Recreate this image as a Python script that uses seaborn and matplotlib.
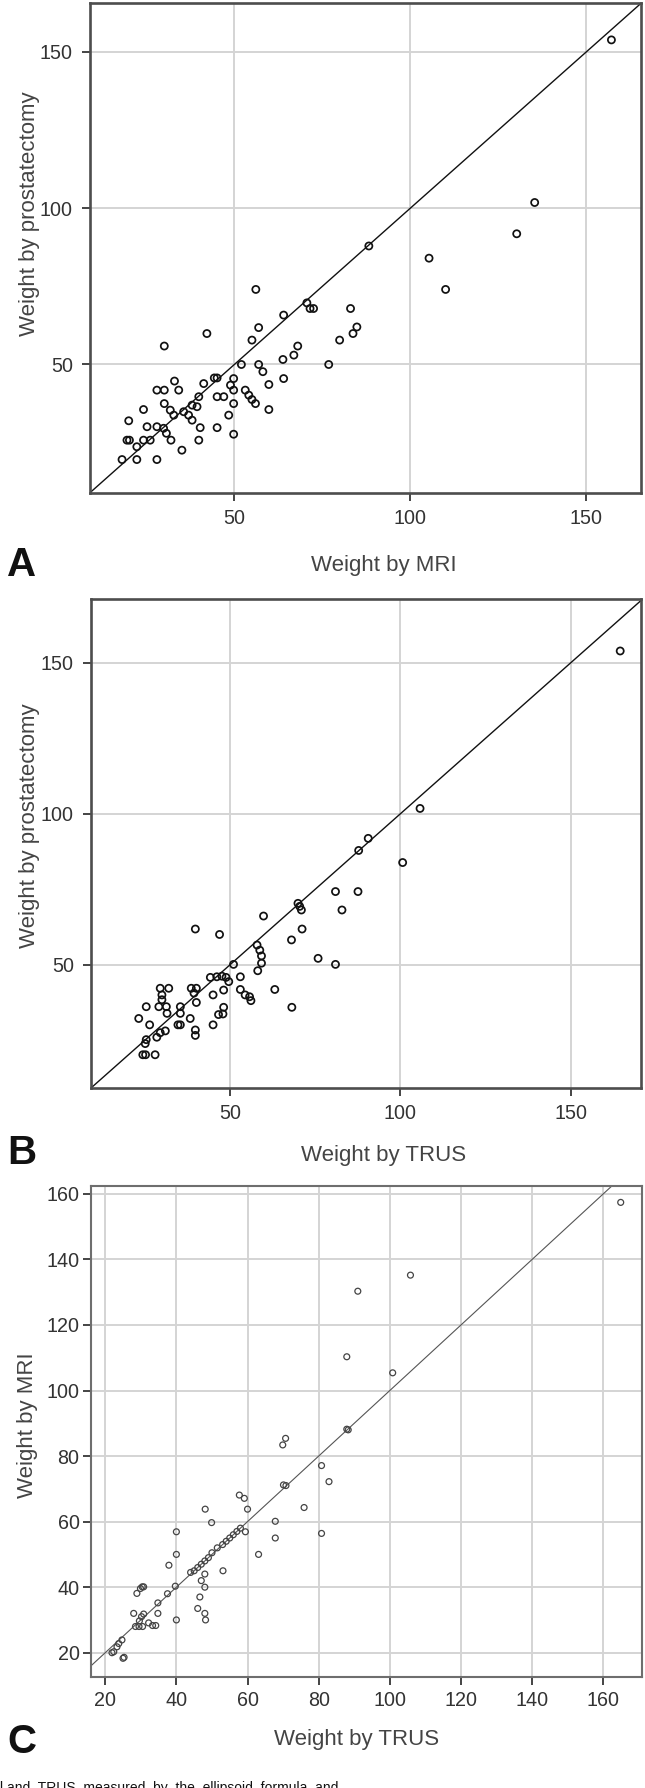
import numpy as np
import pandas as pd
import matplotlib
matplotlib.use("Agg")
import matplotlib.pyplot as plt
import seaborn as sns
from matplotlib import font_manager

# panel A: MRI vs prostatectomy weight
mri_a = [157.1, 135.3, 130.2, 105.3, 110.0, 88.2, 56.1,
         70.6, 71.5, 72.5, 83.0, 64.0, 56.9, 84.8, 83.7, 42.2, 55.0, 79.9, 30.1, 68.0,
         66.9, 63.8, 52.0, 56.9, 76.8, 58.1, 44.3, 45.1, 49.8, 64.0,
         33.0, 41.3, 59.8, 48.9, 28.0, 30.1, 34.2, 49.8, 53.1, 54.1, 39.9, 45.1, 47.0,
         55.0, 30.1, 56.0, 49.8, 38.0, 39.4, 24.2, 31.8, 59.8, 35.6, 32.8, 37.0, 48.4,
         20.0, 38.0, 25.2, 28.0, 29.9, 40.3, 45.1, 49.8, 30.7, 19.5, 20.2, 24.2, 26.1,
         32.0, 39.9, 22.3, 35.1, 18.1, 22.3, 28.0]
prost_a = [153.8, 101.8, 91.8, 84.0, 74.0, 87.9, 74.0,
           69.7, 67.9, 67.9, 67.9, 65.8, 61.8, 62.0, 59.9, 59.9, 57.8, 57.8, 55.9, 55.9,
           53.0, 51.6, 50.0, 50.0, 50.0, 47.7, 45.7, 45.7, 45.5, 45.5,
           44.7, 43.9, 43.6, 43.4, 41.8, 41.8, 41.8, 41.8, 41.8, 40.2, 39.7, 39.7, 39.7,
           38.8, 37.5, 37.5, 37.5, 37.0, 36.5, 35.6, 35.4, 35.6, 34.9, 33.8, 33.8, 33.8,
           32.0, 32.2, 30.1, 30.1, 29.6, 29.8, 29.8, 27.7, 28.0, 25.8, 25.8, 25.8, 25.8,
           25.8, 25.8, 23.7, 22.6, 19.6, 19.6, 19.6]

# panel B: TRUS vs prostatectomy weight
trus_b = [164.5, 105.8, 100.7, 90.6, 87.8,
          81.0, 87.6, 70.0, 70.5, 71.0, 82.9, 59.9, 71.2, 39.9, 47.0, 68.1, 58.0, 58.8,
          59.3, 59.3, 58.2, 75.9, 81.0, 51.1, 44.3, 46.2, 47.7, 48.9, 49.7, 53.1, 53.1,
          54.5, 55.8, 56.2, 63.2, 45.1, 48.2, 48.2, 48.0, 46.7, 68.2, 45.1, 39.9, 39.9,
          38.4, 29.6, 32.1, 38.7, 40.2, 39.5, 30.1, 30.1, 29.2, 31.4, 31.6, 35.5, 35.5,
          40.2, 25.5, 23.3, 26.5, 34.8, 35.5, 31.1, 29.6, 28.6, 25.5, 25.2, 24.5, 25.3,
          28.1]
prost_b = [153.9, 101.8, 83.9, 91.9, 87.9,
           74.3, 74.3, 70.4, 69.4, 68.2, 68.2, 66.2, 61.9, 61.9, 60.1, 58.3, 56.6, 54.9,
           53.0, 50.6, 48.1, 52.2, 50.2, 50.2, 45.9, 46.1, 46.3, 45.9, 44.5, 46.1, 41.9,
           40.1, 39.5, 38.2, 41.9, 40.1, 41.7, 36.0, 33.8, 33.6, 36.0, 30.2, 28.5, 26.7,
           32.3, 42.3, 42.3, 42.3, 42.3, 40.7, 40.1, 38.5, 36.2, 36.2, 34.0, 36.2, 34.0,
           37.6, 36.2, 32.3, 30.2, 30.2, 30.2, 28.2, 27.6, 26.1, 25.3, 24.0, 20.3, 20.3,
           20.3]

# panel C: TRUS vs MRI weight
trus_c = [164.9, 105.8, 91.0, 87.9, 100.8, 87.9, 88.3, 70.7, 69.9, 80.8, 82.9, 70.1,
          70.8, 75.9, 67.8, 80.8, 67.8, 57.7, 59.1, 60.0, 48.1, 49.9, 59.4, 40.0, 40.0,
          37.9, 63.1, 53.1, 48.0, 47.0, 48.0, 46.6, 46.0, 48.0, 48.2,
          44.0, 45.0, 46.0, 47.0, 48.0, 49.0, 50.0, 51.5, 53.0, 54.0, 55.0, 56.0, 57.0, 58.0,
          37.5, 39.7, 40.0, 34.8, 34.8, 34.2, 33.3, 29.9, 30.4, 30.8, 28.9, 28.0, 30.2,
          30.8, 29.6, 29.5, 30.5, 28.5, 32.2, 24.7, 23.8, 23.3, 22.4, 25.0, 25.3, 21.9]
mri_c = [157.4, 135.2, 130.3, 110.3, 105.4, 88.2, 88.0, 85.4, 83.4, 77.1, 72.2, 71.2,
         71.0, 64.3, 60.1, 56.4, 55.0, 68.1, 67.1, 63.8, 63.8, 59.7, 56.9, 56.9, 50.0,
         46.7, 50.0, 45.0, 44.0, 42.0, 40.0, 37.0, 33.5, 32.0, 30.0,
         44.5, 45.0, 46.0, 47.0, 48.0, 49.0, 50.5, 52.0, 53.0, 54.0, 55.0, 56.0, 57.0, 58.0,
         38.0, 40.3, 30.0, 35.2, 32.0, 28.3, 28.3, 39.6, 40.1, 40.1, 38.1, 32.0, 31.0,
         31.8, 29.7, 28.0, 28.0, 28.0, 29.1, 23.9, 22.8, 21.8, 20.3, 18.3, 18.6, 20.0]

ticks_ab = [50, 100, 150]
ticks_c = [20, 40, 60, 80, 100, 120, 140, 160]

sns.set_theme(style="white")
plt.rcParams['font.family'] = ['Liberation Sans', 'DejaVu Sans']

names = {f.name for f in font_manager.fontManager.ttflist}
letter_font = 'Liberation Sans Narrow' if 'Liberation Sans Narrow' in names else 'Liberation Sans'

W, H = 645, 1788
fig = plt.figure(figsize=(W / 100, H / 100), dpi=100)


def box(left, top, right, bottom):
    return [left / W, 1 - bottom / H, (right - left) / W, (bottom - top) / H]


def px(x, y):
    return x / W, 1 - y / H


def draw_panel(ax, x, y, xlim, ylim, ticks, xlabel, ylabel, heavy):
    df = pd.DataFrame({'x': x, 'y': y})
    ax.grid(True, color='#d4d4d4', linewidth=1.4)
    ax.set_axisbelow(True)
    ax.axline((0, 0), slope=1, color='#111111' if heavy else '#555555',
              linewidth=1.0 if heavy else 0.8, zorder=2)
    sns.scatterplot(data=df, x='x', y='y', ax=ax, marker='o',
                    s=26 if heavy else 18, facecolor='none',
                    edgecolor='#111111' if heavy else '#444444',
                    linewidth=1.25 if heavy else 0.9, zorder=3)
    ax.set_xlim(*xlim)
    ax.set_ylim(*ylim)
    ax.set_xticks(ticks)
    ax.set_yticks(ticks)
    for s in ax.spines.values():
        s.set_visible(True)
        s.set_color('#4d4d4d' if heavy else '#6e6e6e')
        s.set_linewidth(1.9 if heavy else 1.5)
    ax.tick_params(axis='both', which='major', length=5.8, width=1.4,
                   color='#444444', labelsize=14.2, labelcolor='#333333',
                   left=True, bottom=True)
    ax.tick_params(axis='x', pad=5.8 if heavy else 4.3)
    ax.tick_params(axis='y', pad=6.5 if heavy else 2.4)
    ax.set_xlabel(xlabel, fontsize=16, color='#444444')
    ax.set_ylabel(ylabel, fontsize=16, color='#444444')


ax_a = fig.add_axes(box(90, 3, 641, 492.7))
draw_panel(ax_a, mri_a, prost_a, (9.0, 165.5), (9.0, 165.6), ticks_ab,
           'Weight by MRI', 'Weight by prostatectomy', True)
ax_b = fig.add_axes(box(91, 599.3, 641, 1088.3))
draw_panel(ax_b, trus_b, prost_b, (9.3, 170.6), (9.2, 171.0), ticks_ab,
           'Weight by TRUS', 'Weight by prostatectomy', True)
ax_c = fig.add_axes(box(91, 1186, 641.7, 1677.3))
draw_panel(ax_c, trus_c, mri_c, (16.0, 170.8), (12.5, 162.4), ticks_c,
           'Weight by TRUS', 'Weight by MRI', False)

# axis label placement
label_pos = [(ax_a, (384, 565), (30, 214)),
             (ax_b, (384, 1155), (30, 826)),
             (ax_c, (357, 1739), (28, 1425))]
for ax, (xx, xy), (yx, yy) in label_pos:
    ax.xaxis.label.set_va('center')
    ax.xaxis.set_label_coords(*px(xx, xy), transform=fig.transFigure)
    ax.yaxis.label.set_va('center')
    ax.yaxis.set_label_coords(*px(yx, yy), transform=fig.transFigure)

for letter, yy in [('A', 565), ('B', 1153), ('C', 1742)]:
    fig.text(*px(7, yy), letter, fontsize=29, fontweight='bold',
             family=[letter_font, 'DejaVu Sans'], color='#111111',
             ha='left', va='center')

# caption line, cut off at the bottom edge as in the source page
fig.text(*px(0, 1781), 'l and  TRUS  measured  by  the  ellipsoid  formula  and',
         fontsize=10, color='#111111', ha='left', va='top')

fig.savefig('out.png', dpi=100)
